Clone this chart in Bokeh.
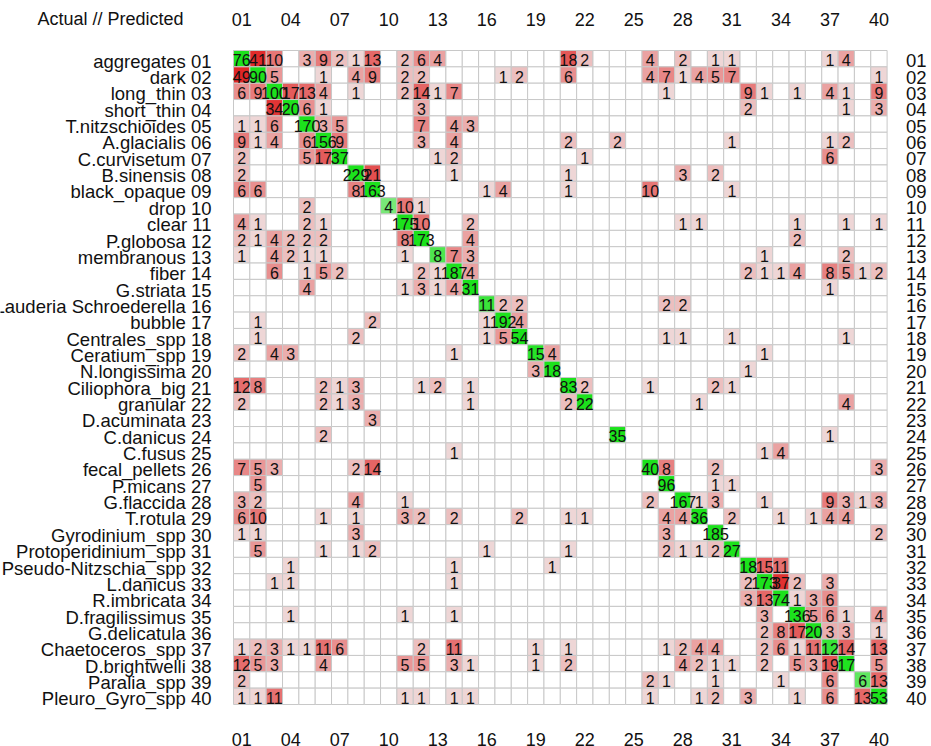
import math
from bokeh.plotting import figure
from bokeh.models import ColumnDataSource, Range1d
from bokeh.embed import file_html
from bokeh.resources import INLINE
from bokeh.core.properties import value

# ---------------- data ----------------
header = "Actual // Predicted"

class_names = [
    "aggregates", "dark", "long_thin", "short_thin", "T.nitzschioides",
    "A.glacialis", "C.curvisetum", "B.sinensis", "black_opaque", "drop",
    "clear", "P.globosa", "membranous", "fiber", "G.striata",
    "Lauderia Schroederella", "bubble", "Centrales_spp", "Ceratium_spp", "N.longissima",
    "Ciliophora_big", "granular", "D.acuminata", "C.danicus", "C.fusus",
    "fecal_pellets", "P.micans", "G.flaccida", "T.rotula", "Gyrodinium_spp",
    "Protoperidinium_spp", "Pseudo-Nitzschia_spp", "L.danicus", "R.imbricata", "D.fragilissimus",
    "G.delicatula", "Chaetoceros_spp", "D.brightwelli", "Paralia_spp", "Pleuro_Gyro_spp",
]
class_codes = [
    "01", "02", "03", "04", "05", "06", "07", "08", "09", "10",
    "11", "12", "13", "14", "15", "16", "17", "18", "19", "20",
    "21", "22", "23", "24", "25", "26", "27", "28", "29", "30",
    "31", "32", "33", "34", "35", "36", "37", "38", "39", "40",
]
top_ticks = ["01", "04", "07", "10", "13", "16", "19", "22", "25", "28", "31", "34", "37", "40"]

# non-zero counts per actual class (row): {predicted column: count}
counts_by_row = [
    {1: 76, 2: 41, 3: 10, 5: 3, 6: 9, 7: 2, 8: 1, 9: 13, 11: 2, 12: 6, 13: 4, 21: 18, 22: 2, 26: 4, 28: 2, 30: 1, 31: 1, 37: 1, 38: 4},
    {1: 49, 2: 90, 3: 5, 6: 1, 8: 4, 9: 9, 11: 2, 12: 2, 17: 1, 18: 2, 21: 6, 26: 4, 27: 7, 28: 1, 29: 4, 30: 5, 31: 7, 40: 1},
    {1: 6, 2: 9, 3: 100, 4: 17, 5: 13, 6: 4, 8: 1, 11: 2, 12: 14, 13: 1, 14: 7, 27: 1, 32: 9, 33: 1, 35: 1, 37: 4, 38: 1, 40: 9},
    {3: 34, 4: 20, 5: 6, 6: 1, 12: 3, 32: 2, 38: 1, 40: 3},
    {1: 1, 2: 1, 3: 6, 5: 170, 6: 3, 7: 5, 12: 7, 14: 4, 15: 3},
    {1: 9, 2: 1, 3: 4, 5: 6, 6: 156, 7: 9, 12: 3, 14: 4, 21: 2, 24: 2, 31: 1, 37: 1, 38: 2},
    {1: 2, 5: 5, 6: 17, 7: 37, 13: 1, 14: 2, 22: 1, 37: 6},
    {1: 2, 8: 229, 9: 21, 14: 1, 21: 1, 28: 3, 30: 2},
    {1: 6, 2: 6, 8: 8, 9: 163, 16: 1, 17: 4, 21: 1, 26: 10, 31: 1},
    {5: 2, 10: 4, 11: 10, 12: 1},
    {1: 4, 2: 1, 5: 2, 6: 1, 11: 175, 12: 10, 15: 2, 28: 1, 29: 1, 35: 1, 38: 1, 40: 1},
    {1: 2, 2: 1, 3: 4, 4: 2, 5: 2, 6: 2, 11: 8, 12: 173, 15: 4, 35: 2},
    {1: 1, 3: 4, 4: 2, 5: 1, 6: 1, 11: 1, 13: 8, 14: 7, 15: 3, 33: 1, 38: 2},
    {3: 6, 5: 1, 6: 5, 7: 2, 12: 2, 13: 1, 14: 187, 15: 4, 32: 2, 33: 1, 34: 1, 35: 4, 37: 8, 38: 5, 39: 1, 40: 2},
    {5: 4, 11: 1, 12: 3, 13: 1, 14: 4, 15: 31, 37: 1},
    {16: 11, 17: 2, 18: 2, 27: 2, 28: 2},
    {2: 1, 9: 2, 16: 1, 17: 192, 18: 4},
    {2: 1, 8: 2, 16: 1, 17: 5, 18: 54, 27: 1, 28: 1, 31: 1, 38: 1},
    {1: 2, 3: 4, 4: 3, 14: 1, 19: 15, 20: 4, 33: 1},
    {19: 3, 20: 18, 32: 1},
    {1: 12, 2: 8, 6: 2, 7: 1, 8: 3, 12: 1, 13: 2, 15: 1, 21: 83, 22: 2, 26: 1, 30: 2, 31: 1},
    {1: 2, 6: 2, 7: 1, 8: 3, 15: 1, 21: 2, 22: 22, 29: 1, 38: 4},
    {9: 3},
    {6: 2, 24: 35, 37: 1},
    {14: 1, 33: 1, 34: 4},
    {1: 7, 2: 5, 3: 3, 8: 2, 9: 14, 26: 40, 27: 8, 30: 2, 40: 3},
    {2: 5, 27: 96, 30: 1, 31: 1},
    {1: 3, 2: 2, 8: 4, 11: 1, 26: 2, 28: 167, 29: 1, 30: 3, 33: 1, 37: 9, 38: 3, 39: 1, 40: 3},
    {1: 6, 2: 10, 6: 1, 8: 1, 11: 3, 12: 2, 14: 2, 18: 2, 21: 1, 22: 1, 27: 4, 28: 4, 29: 36, 31: 2, 34: 1, 36: 1, 37: 4, 38: 4},
    {1: 1, 2: 1, 8: 3, 27: 3, 30: 185, 40: 2},
    {2: 5, 6: 1, 8: 1, 9: 2, 16: 1, 21: 1, 27: 2, 28: 1, 29: 1, 30: 2, 31: 27},
    {4: 1, 14: 1, 20: 1, 32: 18, 33: 15, 34: 11},
    {3: 1, 4: 1, 14: 1, 32: 2, 33: 173, 34: 37, 35: 2, 37: 3},
    {32: 3, 33: 13, 34: 74, 35: 1, 36: 3, 37: 6},
    {4: 1, 11: 1, 14: 1, 33: 3, 35: 136, 36: 5, 37: 6, 38: 1, 40: 4},
    {33: 2, 34: 8, 35: 17, 36: 20, 37: 3, 38: 3, 40: 1},
    {1: 1, 2: 2, 3: 3, 4: 1, 5: 1, 6: 11, 7: 6, 12: 2, 14: 11, 19: 1, 21: 1, 27: 1, 28: 2, 29: 4, 30: 4, 33: 2, 34: 6, 35: 1, 36: 11, 37: 12, 38: 14, 40: 13},
    {1: 12, 2: 5, 3: 3, 6: 4, 11: 5, 12: 5, 14: 3, 15: 1, 19: 1, 21: 2, 28: 4, 29: 2, 30: 1, 31: 1, 33: 2, 35: 5, 36: 3, 37: 19, 38: 17, 40: 5},
    {1: 2, 26: 2, 27: 1, 30: 1, 34: 1, 37: 6, 39: 6, 40: 13},
    {1: 1, 2: 1, 3: 11, 11: 1, 12: 1, 14: 1, 15: 1, 26: 1, 29: 1, 30: 2, 32: 3, 35: 1, 37: 6, 39: 13, 40: 53},
]

# ---------------- styling ----------------
FONT = "Liberation Sans"
W, H = 931, 746
CX, CY = 16.34, 16.35          # cell size in px
GX0, GY0 = 233.0, 50.0         # grid top-left in figure px
N = len(class_names)


def lerp(a, b, f):
    return tuple(int(round(a[i] + (b[i] - a[i]) * f)) for i in range(3))


def hexc(t):
    return "#%02x%02x%02x" % t


def cell_color(r, c, v):
    if v == 0:
        return "#ffffff"
    if r == c:
        f = min(1.0, math.log(v) / math.log(18))
        return hexc(lerp((205, 238, 205), (28, 226, 28), max(f, 0.0)))
    f = min(1.0, math.log(v) / math.log(45)) ** 1.2
    return hexc(lerp((238, 214, 214), (224, 38, 38), f))


xs, ys, fills = [], [], []
tx, ty, tt = [], [], []
for r in range(1, N + 1):
    row = counts_by_row[r - 1]
    for c in range(1, N + 1):
        v = row.get(c, 0)
        xs.append(c - 0.5)
        ys.append(N + 0.5 - r)
        fills.append(cell_color(r, c, v))
        if v:
            tx.append(c - 0.5)
            ty.append(N + 0.5 - r)
            tt.append(str(v))

x_start = -GX0 / CX
x_end = (W - GX0) / CX
y_end = N + GY0 / CY
y_start = N - (H - GY0) / CY


def ypx(py):
    """figure pixel row (from top) -> data y"""
    return N + (GY0 - py) / CY


def xpx(px):
    return (px - GX0) / CX


p = figure(width=W, height=H, x_range=Range1d(x_start, x_end), y_range=Range1d(y_start, y_end),
           output_backend="svg", toolbar_location=None, min_border=0,
           x_axis_location=None, y_axis_location=None)
p.grid.visible = False
p.outline_line_color = None
p.background_fill_color = "white"
p.border_fill_color = "white"

cells = ColumnDataSource(dict(x=xs, y=ys, fill=fills))
p.rect("x", "y", width=1, height=1, source=cells, fill_color="fill",
       line_color="#c8c8c8", line_width=1)

nums = ColumnDataSource(dict(x=tx, y=ty, t=tt))
p.text("x", "y", text="t", source=nums, text_align="center", text_baseline="middle",
       text_font=value(FONT), text_font_size="16px", text_color="#111111", y_offset=1.5)

# left labels
left = ColumnDataSource(dict(
    x=[xpx(211)] * N,
    y=[N + 0.5 - r for r in range(1, N + 1)],
    t=[f"{nm} {cd}" for nm, cd in zip(class_names, class_codes)]))
p.text("x", "y", text="t", source=left, text_align="right", text_baseline="middle",
       text_font=value(FONT), text_font_size="18.5px", text_color="#111111", y_offset=2.5)

# right labels
right = ColumnDataSource(dict(
    x=[xpx(905.5)] * N,
    y=[N + 0.5 - r for r in range(1, N + 1)],
    t=class_codes))
p.text("x", "y", text="t", source=right, text_align="left", text_baseline="middle",
       text_font=value(FONT), text_font_size="18.5px", text_color="#111111", y_offset=2)

# top / bottom column labels
tick_x = [int(t) - 0.5 for t in top_ticks]
top = ColumnDataSource(dict(x=tick_x, y=[ypx(18.8)] * len(top_ticks), t=top_ticks))
p.text("x", "y", text="t", source=top, text_align="center", text_baseline="middle",
       text_font=value(FONT), text_font_size="18px", text_color="#111111")
bot = ColumnDataSource(dict(x=tick_x, y=[ypx(738.5)] * len(top_ticks), t=top_ticks))
p.text("x", "y", text="t", source=bot, text_align="center", text_baseline="middle",
       text_font=value(FONT), text_font_size="18px", text_color="#111111")

# header
p.text(x=[xpx(110)], y=[ypx(18.8)], text=[header], text_align="center",
       text_baseline="middle", text_font=value(FONT), text_font_size="18px", text_color="#111111")

open("out.html", "w").write(file_html(p, INLINE))
